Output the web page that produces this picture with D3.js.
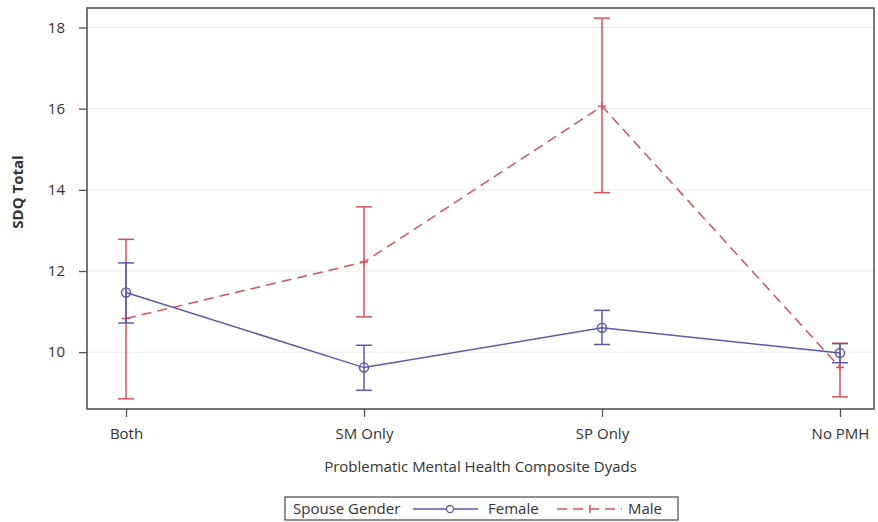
<!DOCTYPE html>
<html>
<head>
<meta charset="utf-8">
<script src="https://cdn.jsdelivr.net/npm/d3@7"></script>
<style>
  body { margin: 0; background: #fff; }
  text { font-family: "Open Sans", "Noto Sans", sans-serif; fill: #333; }
</style>
</head>
<body>
<div id="chart"></div>
<script>
// chart data
var categories = ["Both", "SM Only", "SP Only", "No PMH"];
var femaleMean  = [11.47, 9.62, 10.60, 9.98];
var femaleUpper = [12.20, 10.17, 11.03, 10.21];
var femaleLower = [10.72, 9.06, 10.19, 9.74];
var maleMean  = [10.83, 12.22, 16.06, 9.62];
var maleUpper = [12.78, 13.58, 18.23, 10.22];
var maleLower = [8.85, 10.87, 13.93, 8.90];
var yTicks = [10, 12, 14, 16, 18];

var femaleColor = "#5b5aa8", maleColor = "#d4545c";

var W = 878, H = 522;
var margin = {top: 8, right: 4, bottom: 113, left: 87},
    width = W - margin.left - margin.right,
    height = H - margin.top - margin.bottom;

var svg = d3.select("#chart").append("svg")
  .attr("width", W).attr("height", H);
var g = svg.append("g")
  .attr("transform", "translate(" + margin.left + "," + margin.top + ")");

// categories sit a bit off the frame edges
var x = d3.scalePoint().domain(categories).range([39, width - 34]);
var y = d3.scaleLinear().domain([8.6, 18.48]).range([height, 0]);

// gridlines
g.selectAll(".grid").data(yTicks).enter().append("line")
  .attr("x1", 0).attr("x2", width)
  .attr("y1", function(d) { return y(d); })
  .attr("y2", function(d) { return y(d); })
  .attr("stroke", "#ececec").attr("stroke-width", 1);

// axes
var yAxis = g.append("g")
  .call(d3.axisLeft(y).tickValues(yTicks).tickSize(8).tickPadding(14).tickFormat(d3.format("d")));
var xAxis = g.append("g")
  .attr("transform", "translate(0," + height + ")")
  .call(d3.axisBottom(x).tickSize(8).tickPadding(11));
[xAxis, yAxis].forEach(function(a) {
  a.select(".domain").remove();
  a.selectAll(".tick line").attr("stroke", "#555").attr("stroke-width", 1.3);
  a.selectAll(".tick text").style("font-size", "15px").attr("fill", "#333");
});

// frame
g.append("rect")
  .attr("width", width).attr("height", height)
  .attr("fill", "none").attr("stroke", "#555").attr("stroke-width", 1.6);

function series(mean, upper, lower, color, dashed, marker) {
  var pts = categories.map(function(c, i) {
    return {c: c, m: mean[i], u: upper[i], l: lower[i]};
  });
  var line = d3.line()
    .x(function(d) { return x(d.c); })
    .y(function(d) { return y(d.m); });
  g.append("path").datum(pts)
    .attr("d", line)
    .attr("fill", "none").attr("stroke", color).attr("stroke-width", 1.5)
    .attr("stroke-dasharray", dashed ? "10,6" : null);
  var eb = g.selectAll(null).data(pts).enter().append("g")
    .attr("stroke", color).attr("stroke-width", 1.5);
  eb.append("line")
    .attr("x1", function(d) { return x(d.c); }).attr("x2", function(d) { return x(d.c); })
    .attr("y1", function(d) { return y(d.u); }).attr("y2", function(d) { return y(d.l); });
  ["u", "l"].forEach(function(k) {
    eb.append("line")
      .attr("x1", function(d) { return x(d.c) - 8; }).attr("x2", function(d) { return x(d.c) + 8; })
      .attr("y1", function(d) { return y(d[k]); }).attr("y2", function(d) { return y(d[k]); });
  });
  if (marker === "circle") {
    eb.append("circle")
      .attr("cx", function(d) { return x(d.c); }).attr("cy", function(d) { return y(d.m); })
      .attr("r", 4.5).attr("fill", "none");
  } else {
    eb.append("path")
      .attr("d", function(d) {
        var cx = x(d.c), cy = y(d.m);
        return "M" + (cx - 4) + "," + cy + "H" + (cx + 4) + "M" + cx + "," + (cy - 4) + "V" + (cy + 4);
      });
  }
}
series(maleMean, maleUpper, maleLower, maleColor, true, "plus");
series(femaleMean, femaleUpper, femaleLower, femaleColor, false, "circle");

// axis titles
svg.append("text")
  .attr("x", margin.left + width / 2).attr("y", 472)
  .attr("text-anchor", "middle").style("font-size", "15px")
  .text("Problematic Mental Health Composite Dyads");
svg.append("text")
  .attr("transform", "translate(23,192) rotate(-90)")
  .attr("text-anchor", "middle").style("font-size", "15px").style("font-weight", "bold")
  .attr("fill", "#111")
  .text("SDQ Total");

// legend
var lg = svg.append("g").attr("transform", "translate(285,497)");
lg.append("rect").attr("width", 393).attr("height", 23)
  .attr("fill", "#fff").attr("stroke", "#555").attr("stroke-width", 1.3);
lg.append("text").attr("x", 8).attr("y", 17).style("font-size", "15px").text("Spouse Gender");
lg.append("line").attr("x1", 128).attr("x2", 193).attr("y1", 12).attr("y2", 12)
  .attr("stroke", femaleColor).attr("stroke-width", 1.5);
lg.append("circle").attr("cx", 165).attr("cy", 12).attr("r", 3.5)
  .attr("fill", "#fff").attr("stroke", femaleColor).attr("stroke-width", 1.3);
lg.append("text").attr("x", 203).attr("y", 17).style("font-size", "15px").text("Female");
lg.append("line").attr("x1", 272).attr("x2", 337).attr("y1", 12).attr("y2", 12)
  .attr("stroke", maleColor).attr("stroke-width", 1.5).attr("stroke-dasharray", "10,6");
lg.append("path").attr("d", "M305,8V16")
  .attr("stroke", maleColor).attr("stroke-width", 1.5);
lg.append("text").attr("x", 343).attr("y", 17).style("font-size", "15px").text("Male");
</script>
</body>
</html>
